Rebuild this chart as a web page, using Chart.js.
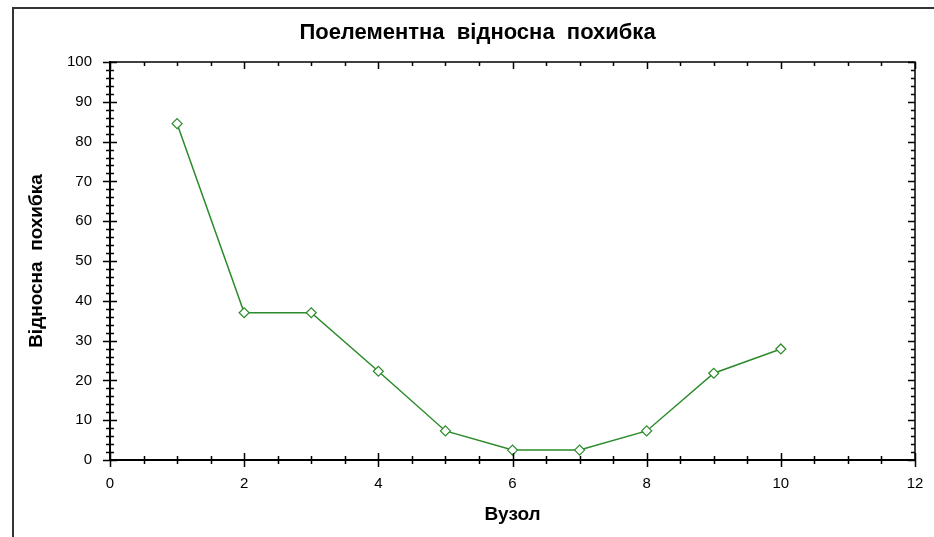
<!DOCTYPE html>
<html>
<head>
<meta charset="utf-8">
<script src="https://cdn.jsdelivr.net/npm/chart.js@4"></script>
<style>
  html, body { margin: 0; padding: 0; background: #fff; }
  #wrap { position: relative; width: 934px; height: 537px; }
  #frame { position: absolute; left: 12px; top: 7px; right: -4px; bottom: -4px; border-left: 2px solid #333; border-top: 2px solid #333; }
</style>
</head>
<body>
<div id="wrap">
  <div id="frame"></div>
  <canvas id="chart" width="934" height="537"></canvas>
</div>
<script>
// ---- data ----
const nodes = [1, 2, 3, 4, 5, 6, 7, 8, 9, 10];
const relError = [84.5, 37, 37, 22.3, 7.3, 2.5, 2.5, 7.3, 21.8, 27.9];

const titleText = 'Поелементна  відносна  похибка';
const xTitle = 'Вузол';
const yTitle = 'Відносна  похибка';

const lineColor = '#2b8a2b';
const font = 'Liberation Sans, Arial';

// cross ticks on the axes + inner ticks on top/right frame
const tickMarks = {
  id: 'tickMarks',
  afterDraw(chart) {
    const { ctx, chartArea: a, scales: { x, y } } = chart;
    ctx.save();
    ctx.strokeStyle = '#000';
    ctx.lineWidth = 1.5;
    // frame top + right
    ctx.beginPath();
    ctx.moveTo(a.left, a.top); ctx.lineTo(a.right, a.top); ctx.lineTo(a.right, a.bottom);
    ctx.stroke();
    ctx.beginPath();
    for (let v = 0; v <= 12.001; v += 0.5) {
      const px = Math.round(x.getPixelForValue(v)) + 0.5;
      const major = Math.abs(v % 2) < 1e-6;
      const d = major ? 7 : 4;
      ctx.moveTo(px, a.bottom - d); ctx.lineTo(px, a.bottom + d);
      ctx.moveTo(px, a.top); ctx.lineTo(px, a.top + d);
    }
    for (let v = 0; v <= 100.001; v += 2) {
      const py = Math.round(y.getPixelForValue(v)) + 0.5;
      const major = Math.abs(v % 10) < 1e-6;
      const d = major ? 7 : 4;
      ctx.moveTo(a.left - d, py); ctx.lineTo(a.left + d, py);
      ctx.moveTo(a.right, py); ctx.lineTo(a.right - d, py);
    }
    ctx.stroke();
    ctx.restore();
  }
};

new Chart(document.getElementById('chart'), {
  type: 'scatter',
  data: {
    datasets: [{
      data: nodes.map((n, i) => ({ x: n, y: relError[i] })),
      showLine: true,
      borderColor: lineColor,
      borderWidth: 1.5,
      pointStyle: 'rectRot',
      pointRadius: 5,
      pointBorderWidth: 1.2,
      pointBorderColor: lineColor,
      pointBackgroundColor: '#fff'
    }]
  },
  options: {
    responsive: false,
    animation: false,
    // left padding shifts the title's centre to match the original
    layout: { padding: { left: 40, right: 19, top: 0, bottom: 0 } },
    plugins: {
      legend: { display: false },
      tooltip: { enabled: false },
      title: {
        display: true,
        text: titleText,
        color: '#000',
        font: { family: font, size: 22, weight: 'bold' },
        padding: { top: 20, bottom: 15.6 }
      }
    },
    scales: {
      x: {
        type: 'linear',
        min: 0, max: 12,
        grid: { display: false },
        border: { display: true, color: '#000', width: 2 },
        ticks: { stepSize: 2, color: '#000', padding: 7, font: { family: font, size: 15 } },
        title: { display: true, text: xTitle, color: '#000', padding: { top: 0, bottom: 10.5 },
                 font: { family: font, size: 19, weight: 'bold' } },
        afterFit(s) { s.height = 77; }
      },
      y: {
        min: 0, max: 100,
        grid: { display: false },
        border: { display: true, color: '#000', width: 2 },
        ticks: { stepSize: 10, color: '#000', padding: 10, font: { family: font, size: 15 } },
        title: { display: true, text: yTitle, color: '#000', padding: { top: -14.4, bottom: 0 },
                 font: { family: font, size: 19, weight: 'bold' } },
        afterFit(s) { s.width = 70; }
      }
    }
  },
  plugins: [tickMarks]
});
</script>
</body>
</html>
